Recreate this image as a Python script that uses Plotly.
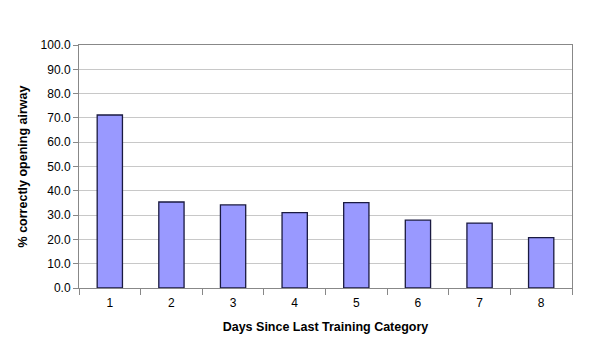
import plotly.graph_objects as go

categories = ["1", "2", "3", "4", "5", "6", "7", "8"]
values = [71.2, 35.4, 34.2, 31.0, 35.1, 27.9, 26.7, 20.7]
y_ticks = [0, 10, 20, 30, 40, 50, 60, 70, 80, 90, 100]
y_tick_labels = [f"{v:.1f}" for v in y_ticks]

fig = go.Figure(go.Bar(
    x=categories, y=values,
    marker=dict(color="#9999FF", line=dict(color="#1a1a40", width=1.3)),
))

# page body has an 8px default margin, so the figure is sized/offset to compensate
fig.update_layout(
    width=592, height=335,
    margin=dict(l=71, r=28, t=37, b=55),
    paper_bgcolor="white", plot_bgcolor="white",
    bargap=0.59,
    showlegend=False,
    font=dict(family="Liberation Sans, Arial, sans-serif", size=12, color="black"),
)
fig.update_xaxes(
    type="category", automargin=False,
    ticks="outside", tickson="boundaries", ticklen=6, tickcolor="#888888",
    ticklabelstandoff=4,
    showline=True, linecolor="#888888", linewidth=1, mirror=True,
    showgrid=False,
    title=dict(text="<b>Days Since Last Training Category</b>", font=dict(size=12.5), standoff=12),
)
fig.update_yaxes(
    range=[0, 100], automargin=False,
    tickvals=y_ticks, ticktext=y_tick_labels,
    ticks="outside", ticklen=5, tickcolor="#888888",
    showline=True, linecolor="#888888", linewidth=1, mirror=True,
    showgrid=True, gridcolor="#c8c8c8", gridwidth=1,
    zeroline=False,
    title=dict(text="<b>% correctly opening airway</b>", font=dict(size=12.5), standoff=10),
)

fig.write_html("out.html")
